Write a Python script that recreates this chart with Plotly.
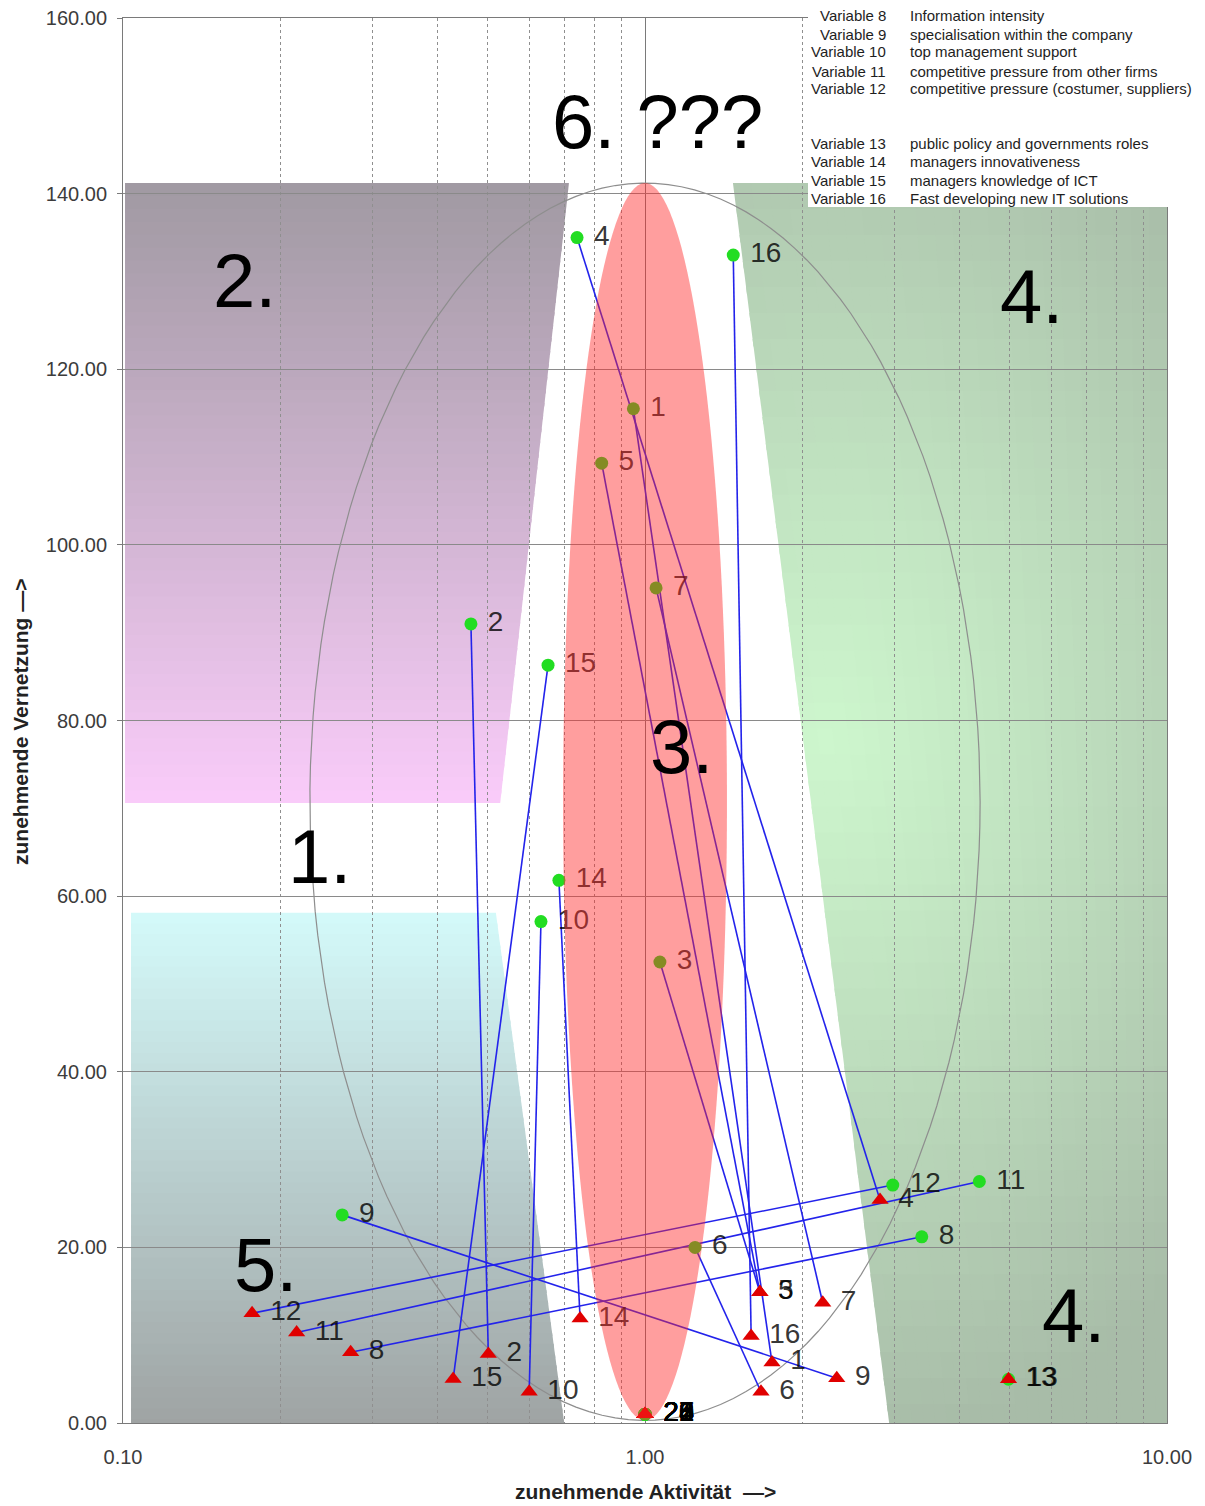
import numpy as np
import plotly.graph_objects as go

# ---------------- data ----------------
variables = ["1", "2", "3", "4", "5", "6", "7", "8", "9", "10", "11", "12", "13", "14", "15", "16"]
green_x = [0.950, 0.464, 1.068, 0.741, 0.826, 1.247, 1.050, 3.39, 0.263, 0.632, 4.37, 2.983, 4.97, 0.684, 0.652, 1.476]
green_y = [115.5, 91.0, 52.5, 135.0, 109.3, 20.0, 95.1, 21.2, 23.7, 57.1, 27.5, 27.1, 4.98, 61.8, 86.3, 133.0]
red_x = [1.751, 0.501, 1.66, 2.82, 1.66, 1.668, 2.19, 0.273, 2.33, 0.600, 0.2151, 0.1767, 4.97, 0.751, 0.429, 1.597]
red_y = [6.9, 7.86, 14.9, 25.4, 14.9, 3.56, 13.7, 8.05, 5.1, 3.56, 10.3, 12.5, 4.98, 11.9, 5.0, 9.9]

# variables without values, all stacked at the centre point
stacked_labels = ["20", "21", "22", "23", "24", "25", "26", "27", "28"]
stacked_x = [1.0, 1.0, 1.0, 1.0, 1.0, 1.0, 1.0, 1.0, 1.0]
stacked_y = [1.0, 1.0, 1.0, 1.0, 1.0, 1.0, 1.0, 1.0, 1.0]

legend_names = ["Variable 7", "Variable 8", "Variable 9", "Variable 10", "Variable 11",
                "Variable 12", "Variable 13", "Variable 14", "Variable 15", "Variable 16"]
legend_desc = ["quality of IS & capabilities", "Information intensity",
               "specialisation within the company", "top management support",
               "competitive pressure from other firms",
               "competitive pressure (costumer, suppliers)",
               "public policy and governments roles", "managers innovativeness",
               "managers knowledge of ICT", "Fast developing new IT solutions"]

x_tick_vals = [0.1, 1, 10]
x_tick_text = ["0.10", "1.00", "10.00"]
x_minor_vals = [0.2, 0.3, 0.4, 0.5, 0.6, 0.7, 0.8, 0.9, 2, 3, 4, 5, 6, 7, 8, 9]
y_tick_vals = [0, 20, 40, 60, 80, 100, 120, 140, 160]

zone_labels = ["6. ???", "2.", "1.", "3.", "4.", "4.", "5."]

# ---------------- layout helpers ----------------
# the page adds an 8px body margin; the figure is sized so the plot area lands
# on pixels 123..1167 (x) and 18..1423 (y) of the window
OFF = 8
W, H = 1205 - OFF, 1506 - OFF
ML, MR, MT, MB = 123 - OFF, 38, 18 - OFF, 83
PW, PH = W - ML - MR, H - MT - MB
BASE = 1423


def pxx(px):
    return (px - 123) / PW


def pxy(py):
    return (BASE - py) / PH


def rgb(c):
    return "rgb(%d,%d,%d)" % tuple(int(round(v)) for v in c)


def mix(a, b, t):
    return [a[i] + (b[i] - a[i]) * t for i in range(3)]


def path_of(pts):
    return "M " + " L ".join("%.6f,%.6f" % (x, y) for x, y in pts) + " Z"


shapes = []

# zone 2 (purple, vertical gradient)
z2_top, z2_bot = 141.2, 70.6
z2_left, z2_rt, z2_rb = 0.1009, 0.715, 0.528
z2_c_top, z2_c_bot = (160, 153, 162), (250, 204, 250)
# zone 5 (cyan)
z5_top, z5_bot = 58.1, -0.8
z5_left, z5_rt, z5_rb = 0.1036, 0.518, 0.703
z5_c_top, z5_c_bot = (212, 250, 250), (158, 162, 162)
# zone 4 (green, radial)
z4_top, z4_bot = 141.2, -0.8
z4_lt, z4_lb, z4_right = 1.474, 2.947, 10.0
z4_light, z4_dark = (205, 246, 205), (168, 188, 168)
z4_center = (0.354, 78.0)

N = 48


def slanted_band(top, bot, left, rt, rb, ctop, cbot):
    for i in range(N):
        t0 = i / N
        t1 = min(1.0, (i + 1) / N + 0.006)
        y0 = top + (bot - top) * t0
        y1 = top + (bot - top) * t1
        xr0 = 10 ** (np.log10(rt) + (np.log10(rb) - np.log10(rt)) * t0)
        xr1 = 10 ** (np.log10(rt) + (np.log10(rb) - np.log10(rt)) * t1)
        col = mix(ctop, cbot, (i + 0.5) / N)
        shapes.append(dict(type="path", xref="x", yref="y", layer="below",
                           path=path_of([(left, y0), (xr0, y0), (xr1, y1), (left, y1)]),
                           fillcolor=rgb(col), line=dict(width=0)))


slanted_band(z2_top, z2_bot, z2_left, z2_rt, z2_rb, z2_c_top, z2_c_bot)
slanted_band(z5_top, z5_bot, z5_left, z5_rt, z5_rb, z5_c_top, z5_c_bot)

M = 24
lr = np.log10(z4_right)
for i in range(N):
    t0 = i / N
    t1 = min(1.0, (i + 1) / N + 0.006)
    y0 = z4_top + (z4_bot - z4_top) * t0
    y1 = z4_top + (z4_bot - z4_top) * t1
    l0 = np.log10(z4_lt) + (np.log10(z4_lb) - np.log10(z4_lt)) * t0
    l1 = np.log10(z4_lt) + (np.log10(z4_lb) - np.log10(z4_lt)) * t1
    for j in range(M):
        u0 = j / M
        u1 = min(1.0, (j + 1) / M + 0.01)
        pts = [(10 ** (l0 + (lr - l0) * u0), y0), (10 ** (l0 + (lr - l0) * u1), y0),
               (10 ** (l1 + (lr - l1) * u1), y1), (10 ** (l1 + (lr - l1) * u0), y1)]
        tc = (i + 0.5) / N
        uc = (j + 0.5) / M
        lc = (l0 + l1) / 2
        xc = lc + (lr - lc) * uc
        yc = z4_top + (z4_bot - z4_top) * tc
        d = np.hypot((xc - z4_center[0]) / 1.05, (yc - z4_center[1]) / 80.0)
        d = min(1.0, d) ** 1.1
        shapes.append(dict(type="path", xref="x", yref="y", layer="below",
                           path=path_of(pts), fillcolor=rgb(mix(z4_light, z4_dark, d)),
                           line=dict(width=0)))

# zone 3: red ellipse overlay (above the data)
tt = np.linspace(0, 2 * np.pi, 160)
ell_cy, ell_ry = 70.75, 70.45
red_rx = 0.157
shapes.append(dict(type="path", xref="x", yref="y", layer="above",
                   path=path_of([(10 ** (red_rx * np.cos(a)), ell_cy + ell_ry * np.sin(a)) for a in tt]),
                   fillcolor="rgba(255,40,40,0.45)", line=dict(width=0)))

# white box behind the variable list
shapes.append(dict(type="rect", xref="paper", yref="paper", layer="above",
                   x0=pxx(808), x1=pxx(1215), y0=pxy(207), y1=pxy(-10),
                   fillcolor="white", line=dict(width=0)))

# ---------------- traces ----------------
fig = go.Figure()

gray_rx = 0.642
fig.add_trace(go.Scatter(x=[10 ** (gray_rx * np.cos(a)) for a in tt],
                         y=[ell_cy + ell_ry * np.sin(a) for a in tt],
                         mode="lines", line=dict(color="#8e8e8e", width=1.2),
                         hoverinfo="skip", showlegend=False))

lx, ly = [], []
for i in range(len(variables)):
    lx += [green_x[i], red_x[i], None]
    ly += [green_y[i], red_y[i], None]
fig.add_trace(go.Scatter(x=lx, y=ly, mode="lines", line=dict(color="rgb(35,35,235)", width=1.6),
                         hoverinfo="skip", showlegend=False))

lab_font = dict(family="Liberation Sans, Arial", size=28, color="rgba(0,0,0,0.8)")
fig.add_trace(go.Scatter(x=green_x, y=green_y, mode="markers+text",
                         text=["\u00a0" + v for v in variables], textposition="middle right",
                         textfont=lab_font,
                         marker=dict(color="#22dd22", size=13, line=dict(width=0)),
                         showlegend=False))
fig.add_trace(go.Scatter(x=stacked_x, y=stacked_y, mode="markers",
                         marker=dict(color="#22dd22", size=13, line=dict(width=0)),
                         showlegend=False))
fig.add_trace(go.Scatter(x=red_x, y=red_y, mode="markers+text",
                         text=["\u00a0" + v for v in variables], textposition="middle right",
                         textfont=lab_font,
                         marker=dict(color="#e00000", size=15, symbol="triangle-up", line=dict(width=0)),
                         showlegend=False))
fig.add_trace(go.Scatter(x=stacked_x, y=stacked_y, mode="markers+text",
                         text=["\u00a0" + v for v in stacked_labels], textposition="middle right",
                         textfont=dict(family="Liberation Sans, Arial", size=28, color="black"),
                         marker=dict(color="#e00000", size=15, symbol="triangle-up", line=dict(width=0)),
                         showlegend=False))

# ---------------- annotations ----------------
ann = []
zone_pos = [(657, 121), (244, 281), (319, 857), (681, 746), (1031, 296), (1073, 1315), (265, 1264)]
for txt, (px, py) in zip(zone_labels, zone_pos):
    ann.append(dict(text=txt, xref="paper", yref="paper", x=pxx(px), y=pxy(py),
                    xanchor="center", yanchor="middle", showarrow=False,
                    font=dict(family="Liberation Sans Narrow, Arial Narrow, Liberation Sans", size=76,
                              color="black")))

legend_rows = [0, 16, 34, 52, 71, 89, 143, 161, 180, 198]
for name, desc, py in zip(legend_names, legend_desc, legend_rows):
    ann.append(dict(text=name, xref="paper", yref="paper", x=pxx(888), y=pxy(py),
                    xanchor="right", yanchor="middle", showarrow=False,
                    font=dict(family="Liberation Sans, Arial", size=15, color="#1e1e1e")))
    ann.append(dict(text=desc, xref="paper", yref="paper", x=pxx(908), y=pxy(py),
                    xanchor="left", yanchor="middle", showarrow=False,
                    font=dict(family="Liberation Sans, Arial", size=15, color="#1e1e1e")))

ann.append(dict(text="<b>zunehmende Aktivität  —></b>", xref="paper", yref="paper",
                x=pxx(645), y=pxy(1491), xanchor="center", yanchor="middle", showarrow=False,
                font=dict(family="Liberation Sans, Arial", size=21, color="#222222")))
ann.append(dict(text="<b>zunehmende Vernetzung —></b>", xref="paper", yref="paper",
                x=pxx(20), y=pxy(722), xanchor="center", yanchor="middle", showarrow=False,
                textangle=-90,
                font=dict(family="Liberation Sans, Arial", size=21, color="#222222")))

fig.update_layout(
    width=W, height=H,
    margin=dict(l=ML, r=MR, t=MT, b=MB, autoexpand=False),
    paper_bgcolor="white", plot_bgcolor="white",
    shapes=shapes, annotations=ann, showlegend=False,
    font=dict(family="Liberation Sans, Arial", color="#3c3c3c"),
    xaxis=dict(type="log", range=[-1, 1], tickvals=x_tick_vals, ticktext=x_tick_text,
               showgrid=True, gridcolor="#7a7a7a", gridwidth=1,
               minor=dict(tickvals=x_minor_vals, showgrid=True, griddash="dot",
                          gridcolor="#8f8f8f", gridwidth=1, ticks=""),
               showline=True, mirror=True, linecolor="#7a7a7a", linewidth=1, ticks="",
               ticklabelstandoff=16, ticklabeloverflow="allow",
               tickfont=dict(size=20, color="#3c3c3c"), zeroline=False),
    yaxis=dict(range=[0, 160], tickvals=y_tick_vals, tickformat=".2f",
               showgrid=True, gridcolor="#8a8a8a", gridwidth=1,
               showline=True, mirror=True, linecolor="#7a7a7a", linewidth=1,
               ticks="outside", ticklen=5, tickcolor="#7a7a7a",
               ticklabelstandoff=6, ticklabeloverflow="allow",
               tickfont=dict(size=20, color="#3c3c3c"), zeroline=False),
)

fig.write_html("out.html")
